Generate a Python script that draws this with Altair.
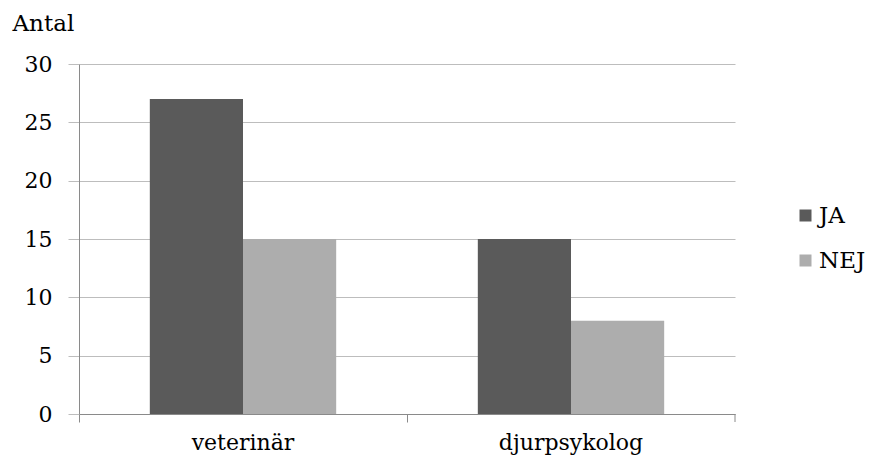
import altair as alt
import pandas as pd

categories = ["veterinär", "djurpsykolog"]
series = ["JA", "NEJ"]
ja_values = [27, 15]
nej_values = [15, 8]
y_ticks = [0, 5, 10, 15, 20, 25, 30]
colors = ["#5a5a5a", "#adadad"]

rows = []
for c, ja, nej in zip(categories, ja_values, nej_values):
    rows.append({"kategori": c, "svar": "JA", "antal": ja})
    rows.append({"kategori": c, "svar": "NEJ", "antal": nej})
df = pd.DataFrame(rows)

FONT = "DejaVu Serif"
FS = 22

bars = alt.Chart(df).mark_bar(strokeWidth=0).encode(
    x=alt.X(
        "kategori:N",
        sort=categories,
        scale=alt.Scale(paddingInner=0, paddingOuter=0),
        axis=alt.Axis(
            title=None, labelAngle=0, bandPosition=0, tickSize=8, labelPadding=10,
            domainColor="#8a8a8a", tickColor="#8a8a8a", grid=False,
            labelFont=FONT, labelFontSize=FS, labelColor="black",
        ),
    ),
    xOffset=alt.XOffset("svar:N", sort=series, scale=alt.Scale(paddingInner=0, paddingOuter=0.76)),
    y=alt.Y(
        "antal:Q",
        scale=alt.Scale(domain=[0, 30], nice=False),
        axis=alt.Axis(
            values=y_ticks, title="Antal", titleAngle=0, titleAlign="left",
            titleBaseline="alphabetic", titleX=-67, titleY=-34,
            titleFont=FONT, titleFontSize=23, titleFontWeight="normal", titleColor="black",
            labelFont=FONT, labelFontSize=FS, labelColor="black", labelPadding=16,
            tickSize=11, tickColor="#bdbdbd", gridColor="#bdbdbd", domainColor="#8a8a8a",
            grid=True,
        ),
    ),
    color=alt.Color(
        "svar:N",
        sort=series,
        scale=alt.Scale(domain=series, range=colors),
        legend=alt.Legend(
            title=None, orient="none", legendX=715, legendY=140, padding=0,
            symbolType="square", symbolSize=144, symbolStrokeWidth=0,
            labelFont=FONT, labelFontSize=23, labelColor="black", labelOffset=2,
            rowPadding=21,
        ),
    ),
)

end_tick = alt.Chart(pd.DataFrame({"a": [0]})).mark_rule(color="#8a8a8a").encode(
    x=alt.value(656), y=alt.value(350), y2=alt.value(358)
)

chart = alt.layer(bars, end_tick).properties(
    width=656, height=350,
    autosize=alt.AutoSizeParams(type="none"),
    padding={"left": 71, "top": 56, "right": 131, "bottom": 41},
).configure(background="white").configure_view(stroke=None)

chart.save("out.html", embed_options={"renderer": "svg", "actions": False})
